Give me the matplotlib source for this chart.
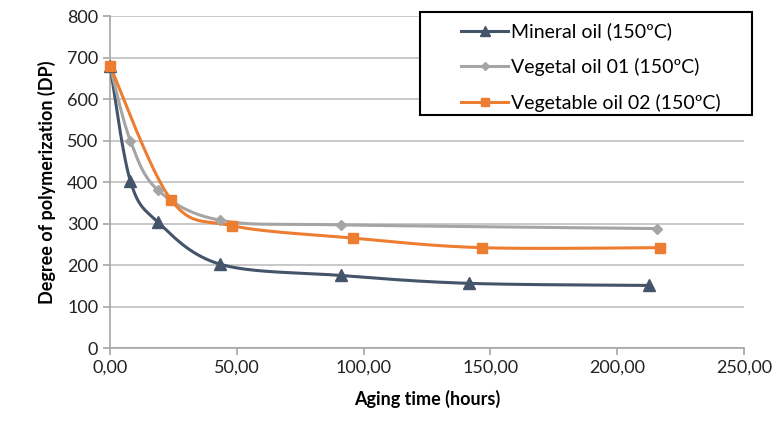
import numpy as np
import matplotlib.pyplot as plt
from matplotlib.patches import Rectangle

plt.rcParams['font.family'] = ['Lato', 'DejaVu Sans']

# Data
mineral_x = [0, 8, 19, 43.5, 91, 141.5, 212.5]
mineral_y = [680, 403, 303, 202, 175, 156, 151]

veg01_x = [0, 8, 19, 43.5, 91, 215.5]
veg01_y = [680, 500, 380, 308, 297, 288]

veg02_x = [0, 24, 48, 96, 146.5, 217]
veg02_y = [680, 358, 295, 265, 242, 242]

labels = ['Mineral oil (150ºC)', 'Vegetal oil 01 (150ºC)', 'Vegetable oil 02 (150ºC)']
colors = ['#44546A', '#A5A5A5', '#ED7D31']
markers = ['^', 'D', 's']
msizes = [9, 5, 7]


def smooth(x, y, n=40):
    # Catmull-Rom style curve through the points (like Excel smoothed lines)
    x = np.asarray(x, float)
    y = np.asarray(y, float)
    px = np.concatenate([[x[0]], x, [x[-1]]])
    py = np.concatenate([[y[0]], y, [y[-1]]])
    xs, ys = [], []
    for i in range(1, len(px) - 2):
        p0 = np.array([px[i], py[i]])
        p3 = np.array([px[i + 1], py[i + 1]])
        c1 = p0 + (np.array([px[i + 1], py[i + 1]]) - np.array([px[i - 1], py[i - 1]])) / 6
        c2 = p3 - (np.array([px[i + 2], py[i + 2]]) - np.array([px[i], py[i]])) / 6
        t = np.linspace(0, 1, n)[:, None]
        pts = ((1 - t) ** 3) * p0 + 3 * ((1 - t) ** 2) * t * c1 + 3 * (1 - t) * t ** 2 * c2 + t ** 3 * p3
        xs.extend(pts[:, 0])
        ys.extend(pts[:, 1])
    return xs, ys


fig = plt.figure(figsize=(7.76, 4.25), dpi=100)
ax = fig.add_axes([0.1418, 0.181, 0.817, 0.781])

series = [(mineral_x, mineral_y), (veg01_x, veg01_y), (veg02_x, veg02_y)]
handles = []
for (xs, ys), lab, c, m, ms in zip(series, labels, colors, markers, msizes):
    sx, sy = smooth(xs, ys)
    ax.plot(sx, sy, color=c, lw=2.2, zorder=3)
    ax.plot(xs, ys, linestyle='none', marker=m, ms=ms, color=c, zorder=4, clip_on=False)
    h, = ax.plot([], [], color=c, lw=2.2, marker=m, ms=ms * 0.85, label=lab)
    handles.append(h)

ax.set_xlim(0, 250)
ax.set_ylim(0, 800)
ax.set_xticks(np.arange(0, 251, 50))
ax.set_xticklabels([f'{v:.2f}'.replace('.', ',') for v in np.arange(0, 251, 50)])
ax.set_yticks(np.arange(0, 801, 100))
ax.grid(axis='y', color='#BFBFBF', lw=1.2)
ax.set_axisbelow(True)

for s in ['top', 'right']:
    ax.spines[s].set_visible(False)
for s in ['left', 'bottom']:
    ax.spines[s].set_color('#A6A6A6')
    ax.spines[s].set_linewidth(1.2)
ax.tick_params(colors='#A6A6A6', labelcolor='#222222', labelsize=13, length=5, width=1.2)

ax.set_xlabel('Aging time (hours)', fontsize=13, fontweight='bold', labelpad=10)
ax.set_ylabel('Degree of polymerization (DP)', fontsize=13, fontweight='bold', labelpad=8)

# legend box
fig.patches.append(Rectangle((0.541, 0.7294), 0.428, 0.2424, transform=fig.transFigure,
                             facecolor='white', edgecolor='black', lw=1.5, zorder=5))
leg = fig.legend(handles=handles, loc='upper left', bbox_to_anchor=(0.572, 0.988),
                 fontsize=14, frameon=False, handlelength=2.4, labelspacing=0.9,
                 handletextpad=0.15)
leg.set_zorder(6)

fig.savefig('out.png', dpi=100)
